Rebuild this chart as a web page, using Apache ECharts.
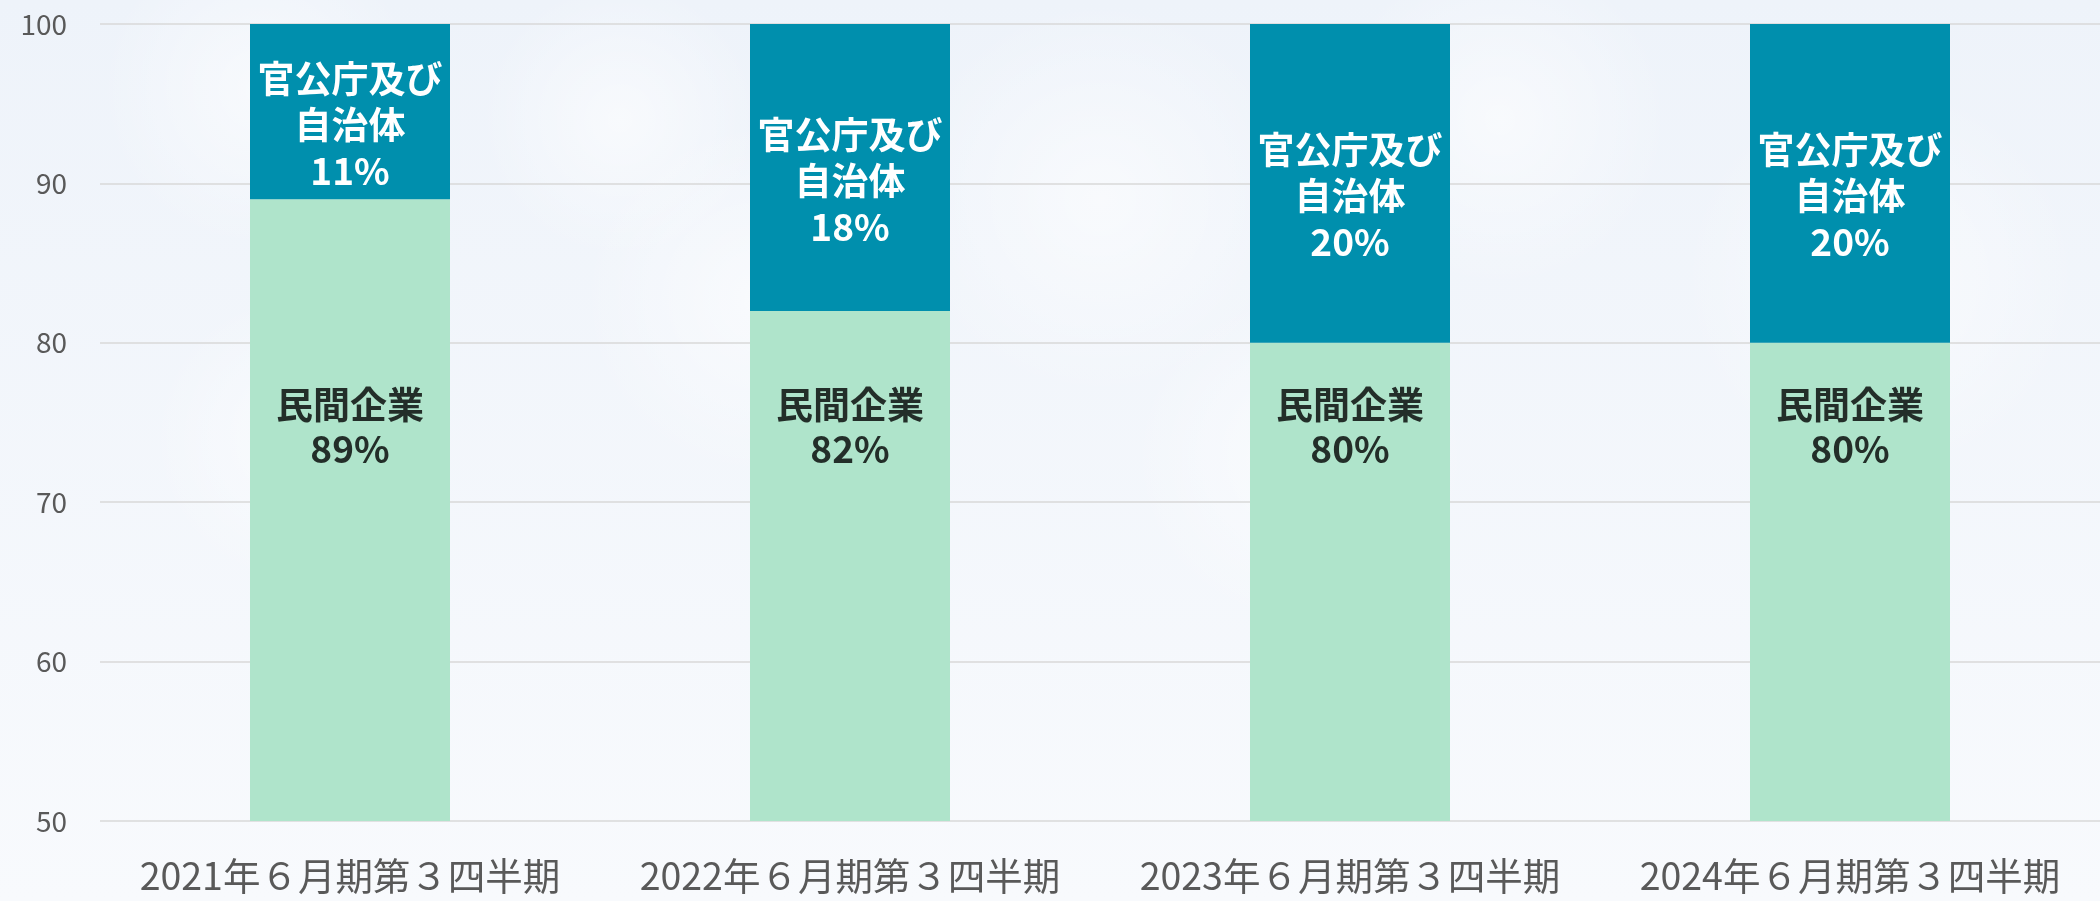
<!DOCTYPE html>
<html>
<head>
<meta charset="utf-8">
<script src="https://cdn.jsdelivr.net/npm/echarts@6/dist/echarts.min.js"></script>
<style>
  html, body { margin: 0; padding: 0; }
  #chart { width: 2100px; height: 901px; }
</style>
</head>
<body>
<div id="chart"></div>
<script>
// データ
const categories = [
  '2021年６月期第３四半期',
  '2022年６月期第３四半期',
  '2023年６月期第３四半期',
  '2024年６月期第３四半期',
]
const privateName = '民間企業'
const publicName = '官公庁及び\n自治体'
const privateShare = [89, 82, 80, 80]
const publicShare = [11, 18, 20, 20]

// 民間企業ラベルの高さ（値軸上）
const privateLabelAt = 74.7

const font = '"Noto Sans CJK JP", "Noto Sans", sans-serif'

// 背景の雲（ごく薄い白）
const clouds = [
  [260, 90, 160], [620, 120, 140], [760, 300, 180], [1100, 200, 200],
  [1500, 120, 170], [1880, 280, 200], [300, 440, 150], [1300, 460, 170],
]

const options = {
  backgroundColor: {
    type: 'linear', x: 0, y: 0, x2: 0, y2: 1,
    colorStops: [
      { offset: 0, color: '#eef3fa' },
      { offset: 1, color: '#f8fafd' },
    ],
  },
  animation: false,
  graphic: clouds.map(c => ({
    type: 'circle',
    z: -10,
    silent: true,
    shape: { cx: c[0], cy: c[1], r: c[2] },
    style: {
      fill: {
        type: 'radial', x: 0.5, y: 0.5, r: 0.5,
        colorStops: [
          { offset: 0, color: 'rgba(255,255,255,0.55)' },
          { offset: 1, color: 'rgba(255,255,255,0)' },
        ],
      },
    },
  })),
  grid: { left: 100, right: 0, top: 24, bottom: 80 },
  xAxis: {
    type: 'category',
    data: categories,
    axisLine: { show: false },
    axisTick: { show: false },
    axisLabel: { interval: 0, color: '#595959', fontSize: 37.5, fontFamily: font, margin: 36 },
  },
  yAxis: {
    type: 'value',
    min: 50,
    max: 100,
    interval: 10,
    axisLine: { show: false },
    axisTick: { show: false },
    axisLabel: { color: '#595959', fontSize: 28, fontFamily: font, margin: 33 },
    splitLine: { lineStyle: { color: '#d9d9d9', width: 1.5 } },
  },
  series: [
    {
      name: privateName,
      type: 'bar',
      stack: 'total',
      barWidth: '40%',
      data: privateShare,
      itemStyle: { color: '#afe4cb' },
      z: 2,
    },
    {
      name: publicName,
      type: 'bar',
      stack: 'total',
      data: publicShare,
      itemStyle: { color: '#008fad' },
      label: {
        show: true,
        position: 'inside',
        offset: [0, 13],
        formatter: p => publicName + '\n' + p.value + '%',
        color: '#ffffff',
        fontSize: 37,
        fontWeight: 'bold',
        fontFamily: font,
        lineHeight: 46,
      },
      z: 2,
    },
    {
      // 民間企業のラベル
      type: 'scatter',
      silent: true,
      symbolSize: 0,
      data: categories.map((c, i) => [i, privateLabelAt]),
      label: {
        show: true,
        position: 'inside',
        formatter: p => privateName + '\n' + privateShare[p.dataIndex] + '%',
        color: '#000000',
        fontSize: 37,
        fontWeight: 'bold',
        fontFamily: font,
        lineHeight: 44,
      },
      z: 5,
    },
  ],
}

let chart = echarts.init(document.getElementById('chart'))
chart.setOption(options)
</script>
</body>
</html>
